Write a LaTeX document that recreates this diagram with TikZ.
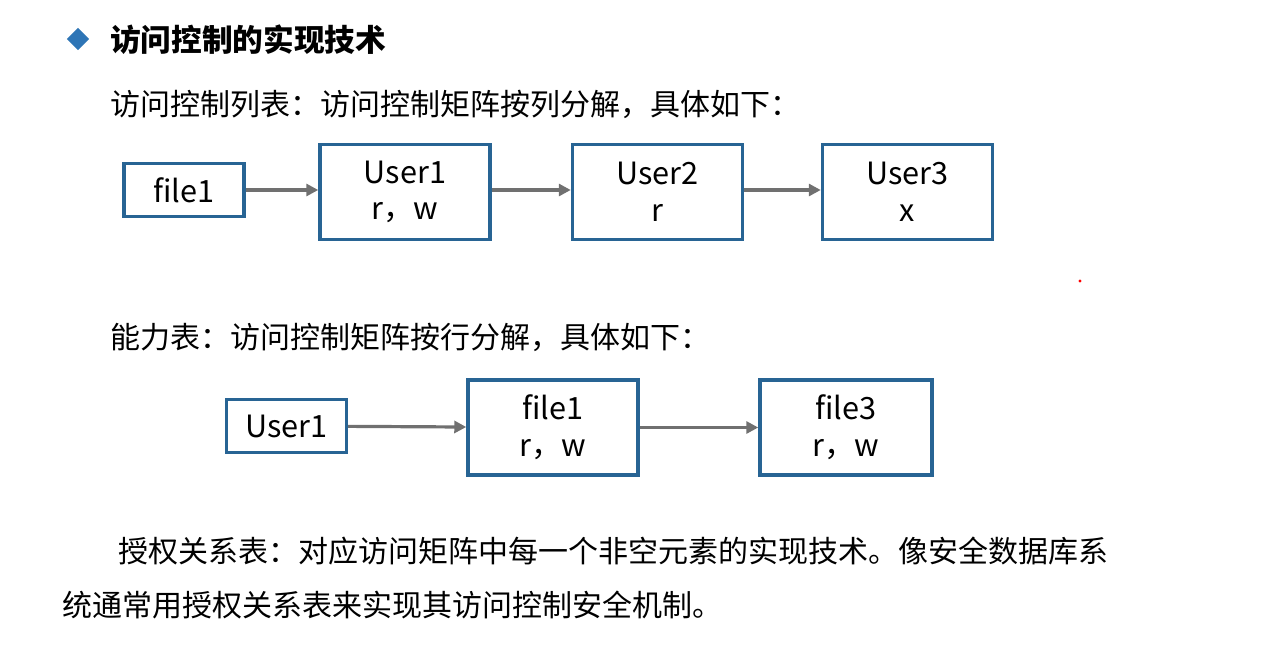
\documentclass[tikz,border=0pt]{standalone}
\usepackage{fontspec}
\setmainfont{Noto Sans CJK SC}
\usepackage{xcolor}
\usetikzlibrary{arrows.meta,shapes.geometric}

\definecolor{boxblue}{RGB}{40,100,148}
\definecolor{arrgray}{RGB}{112,112,112}
\definecolor{markblue}{RGB}{46,117,182}

\tikzset{
  txt/.style={anchor=west, inner sep=0pt, font=\fontsize{22.5pt}{27pt}\selectfont},
  cell/.style={draw=boxblue, line width=2.6pt, align=center, inner sep=0pt,
    font=\fontsize{23pt}{27.5pt}\selectfont},
  small/.style={cell, minimum width=90pt, minimum height=40pt},
  big/.style={cell, minimum width=127.5pt, minimum height=71pt},
  link/.style={draw=arrgray, line width=2.4pt, -{Triangle[length=9pt,width=9pt]}}
}

\begin{document}
\begin{tikzpicture}[x=0.75pt, y=-0.75pt]
  \useasboundingbox (0,0) rectangle (1280,653);

  % heading
  \node[diamond, fill=markblue, inner sep=0pt, minimum size=17pt] (mark) at (78,39) {};
  \node[txt, font=\fontsize{23pt}{27pt}\selectfont\bfseries] (title) at (110,40) {访问控制的实现技术};

  % access control list
  \node[txt] (acl) at (110,104) {访问控制列表：访问控制矩阵按列分解，具体如下：};
  \node[small] (f1) at (184,190) {file1};
  \node[big] (u1) at (405,192) {User1\\r，w};
  \node[big] (u2) at (657.5,192) {User2\\r};
  \node[big] (u3) at (907.5,192) {User3\\x};
  \draw[link] (f1.east) -- (f1.east -| u1.west);
  \draw[link] (u1.east |- f1.east) -- (u2.west |- f1.east);
  \draw[link] (u2.east |- f1.east) -- (u3.west |- f1.east);

  \fill[red] (1080,281) circle (1.2pt);

  % capability list
  \node[txt] (cap) at (110,337) {能力表：访问控制矩阵按行分解，具体如下：};
  \node[small] (cu) at (286.5,426) {User1};
  \node[big] (cf1) at (553,427.5) {file1\\r，w};
  \node[big, minimum width=129pt] (cf3) at (846,427.5) {file3\\r，w};
  \draw[link] (cu) -- (cf1);
  \draw[link] (cf1) -- (cf3);

  % authorization table
  \node[txt] (auth1) at (118,551) {授权关系表：对应访问矩阵中每一个非空元素的实现技术。像安全数据库系};
  \node[txt] (auth2) at (62,605) {统通常用授权关系表来实现其访问控制安全机制。};
\end{tikzpicture}
\end{document}
